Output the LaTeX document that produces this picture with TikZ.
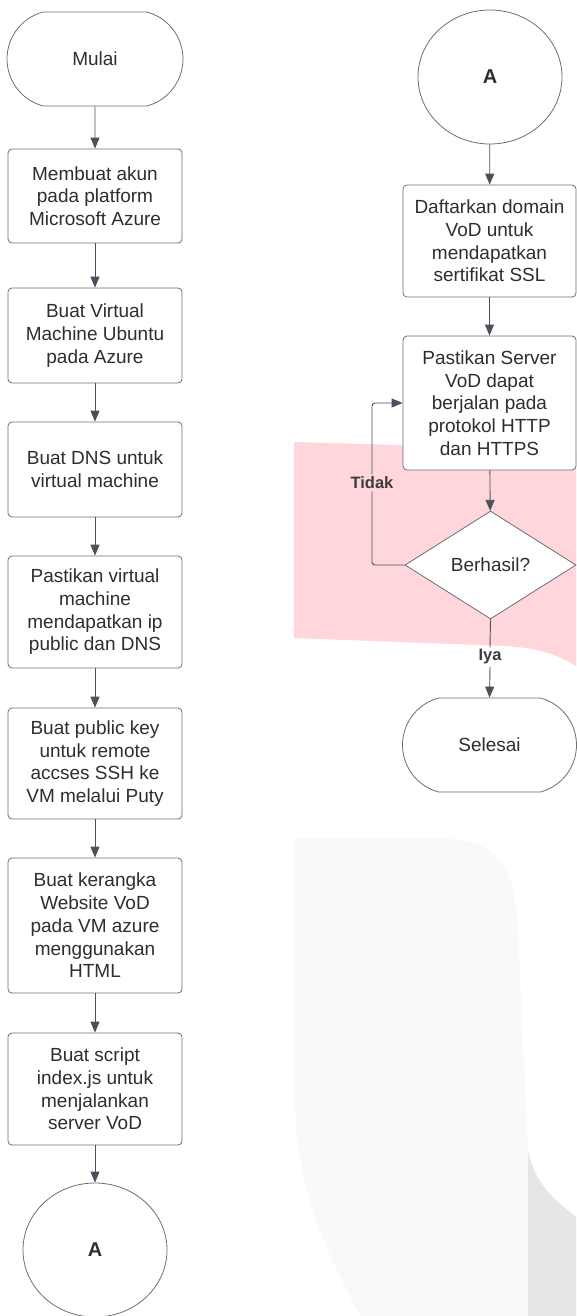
\documentclass[tikz,border=0pt]{standalone}
\usepackage{fontspec}
\setmainfont{Liberation Sans}
\usetikzlibrary{shapes.geometric,shapes.misc,arrows.meta}
\definecolor{pinkbg}{HTML}{FFD6DC}
\definecolor{lightbg}{HTML}{F9F9F9}
\definecolor{darkbg}{HTML}{E6E6E8}
\definecolor{edge}{HTML}{6E6E6E}
\definecolor{conn}{HTML}{4A515B}
\definecolor{txt}{HTML}{2E2E2E}
\definecolor{lbl}{HTML}{3C3C3C}
\tikzset{
  procbox/.style={draw=edge, line width=0.8pt, fill=white, rounded corners=4pt,
    minimum width=174pt, inner sep=0pt, align=center, text=txt,
    font=\fontsize{19}{22.7}\selectfont},
  termbox/.style={draw=edge, line width=0.8pt, fill=white, rounded rectangle,
    rounded rectangle arc length=150, minimum width=176pt, minimum height=94pt,
    inner sep=0pt, align=center, text=txt, font=\fontsize{19}{22.7}\selectfont},
  connbox/.style={draw=edge, line width=0.8pt, fill=white, ellipse,
    minimum width=144pt, minimum height=134pt, inner sep=0pt, text=txt,
    font=\fontsize{20}{24}\selectfont\bfseries},
  decbox/.style={draw=edge, line width=0.8pt, fill=white, diamond,
    minimum width=171pt, minimum height=108pt, inner sep=0pt, text=txt,
    font=\fontsize{19}{22.7}\selectfont},
  flow/.style={draw=conn, line width=0.9pt, -{Triangle[length=11pt,width=9pt]}},
  plainflow/.style={draw=conn, line width=0.9pt},
  lab/.style={inner sep=2pt, text=lbl, font=\fontsize{16.5}{19}\selectfont\bfseries}
}
\begin{document}
\begin{tikzpicture}[x=1pt,y=-1pt]
\useasboundingbox (0,0) rectangle (576,1316);
% background shapes
\fill[pinkbg] (294,442) -- (576,450) -- (576,666)
  .. controls (558,655) and (540,648) .. (505,646) -- (294,638) -- cycle;
\fill[lightbg] (294,839) -- (447,839) .. controls (500,840) and (515,870) .. (518,930)
  -- (528,1150) -- (528,1316) -- (360,1316)
  .. controls (322,1245) and (295,1180) .. (295,1100) -- cycle;
\fill[darkbg] (528,1150) .. controls (535,1185) and (555,1200) .. (576,1217)
  -- (576,1316) -- (528,1316) -- cycle;

% left column
\node[termbox] (mulai) at (95,59) {Mulai};
\node[procbox, minimum height=94pt] (b1) at (95,196) {Membuat akun\\pada platform\\Microsoft Azure};
\node[procbox, minimum height=95pt] (b2) at (95,335.5) {Buat Virtual\\Machine Ubuntu\\pada Azure};
\node[procbox, minimum height=95pt] (b3) at (95,469.5) {Buat DNS untuk\\virtual machine};
\node[procbox, minimum height=112pt] (b4) at (95,612) {Pastikan virtual\\machine\\mendapatkan ip\\public dan DNS};
\node[procbox, minimum height=111pt] (b5) at (95,763.5) {Buat public key\\untuk remote\\accses SSH ke\\VM melalui Puty};
\node[procbox, minimum height=135pt] (b6) at (95,925.5) {Buat kerangka\\Website VoD\\pada VM azure\\menggunakan\\HTML};
\node[procbox, minimum height=112pt] (b7) at (95,1089) {Buat script\\index.js untuk\\menjalankan\\server VoD};
\node[connbox] (a1) at (95,1250) {A};

% right column
\node[connbox] (a2) at (490,77) {A};
\node[procbox, minimum width=173pt, minimum height=112pt] (r1) at (489.5,241) {Daftarkan domain\\VoD untuk\\mendapatkan\\sertifikat SSL};
\node[procbox, minimum width=173pt, minimum height=134pt] (r2) at (489.5,403) {Pastikan Server\\VoD dapat\\berjalan pada\\protokol HTTP\\dan HTTPS};
\node[decbox] (d) at (490.5,565) {Berhasil?};
\node[termbox, minimum width=174pt] (selesai) at (489.5,745) {Selesai};

% labels
\node[lab] (tidak) at (372,483) {Tidak};
\node[lab] (iya) at (490,657) {Iya};

% connectors
\draw[flow] (mulai) -- (b1);
\draw[flow] (b1) -- (b2);
\draw[flow] (b2) -- (b3);
\draw[flow] (b3) -- (b4);
\draw[flow] (b4) -- (b5);
\draw[flow] (b5) -- (b6);
\draw[flow] (b6) -- (b7);
\draw[flow] (b7) -- (a1);
\draw[flow] (a2) -- (r1);
\draw[flow] (r1) -- (r2);
\draw[flow] (r2) -- (d);
\draw[plainflow, rounded corners=3pt] (d.west) -| (tidak.south);
\draw[flow, rounded corners=3pt] (tidak.north) |- (r2.west);
\draw[plainflow] (d.south) -- (iya.north);
\draw[flow] (iya.south) -- (selesai.north);
\end{tikzpicture}
\end{document}
